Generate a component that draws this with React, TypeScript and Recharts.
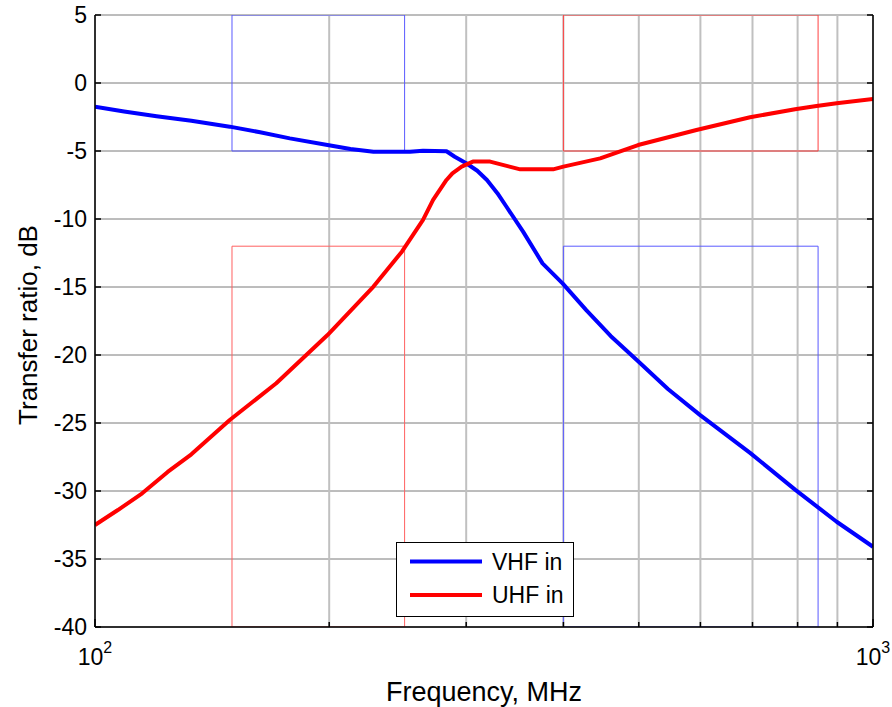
import React from 'react';
import { LineChart, Line, XAxis, YAxis, CartesianGrid } from 'recharts';

// Frequency axis (MHz) and values
const vhfFreq = [100, 109, 120, 133, 149, 163, 178, 199, 213, 228, 254, 264, 283, 290, 300, 310, 319, 329, 338, 355, 376, 399, 428, 460, 497, 545, 599, 695, 794, 898, 1000];
const vhfGain = [-1.74, -2.1, -2.45, -2.77, -3.21, -3.62, -4.07, -4.56, -4.85, -5.05, -5.05, -4.98, -5.02, -5.42, -5.9, -6.45, -7.13, -8.1, -9.1, -10.93, -13.26, -14.73, -16.7, -18.6, -20.37, -22.5, -24.4, -27.2, -29.9, -32.26, -34.1];

const uhfFreq = [100, 107, 115, 124, 133, 149, 171, 199, 228, 248, 264, 272, 283, 288, 296, 306, 322, 352, 388, 400, 446, 499, 593, 695, 794, 846, 898, 1000];
const uhfGain = [-32.5, -31.4, -30.17, -28.6, -27.3, -24.78, -22.08, -18.53, -14.97, -12.4, -10.07, -8.6, -7.13, -6.64, -6.15, -5.78, -5.78, -6.35, -6.35, -6.15, -5.54, -4.56, -3.46, -2.52, -1.93, -1.69, -1.49, -1.18];

// Mask rectangles
const vhfPassMaskF = [150, 150, 250, 250, 150];
const vhfPassMaskV = [5, -5, -5, 5, 5];
const vhfStopMaskF = [400, 400, 850, 850, 400];
const vhfStopMaskV = [-40, -12, -12, -40, -40];
const uhfStopMaskF = [150, 150, 250, 250, 150];
const uhfStopMaskV = [-40, -12, -12, -40, -40];
const uhfPassMaskF = [400, 400, 850, 850, 400];
const uhfPassMaskV = [5, -5, -5, 5, 5];

const xTicks = [100, 200, 300, 400, 500, 600, 700, 800, 900, 1000];
const yTicks = [-40, -35, -30, -25, -20, -15, -10, -5, 0, 5];

const seriesNames = ['VHF in', 'UHF in'];
const xLabel = 'Frequency, MHz';
const yLabel = 'Transfer ratio, dB';

const zip = (f: number[], v: number[]) => f.map((x, i) => ({ f: x, v: v[i] }));

const FONT = '"Liberation Sans", Arial, Helvetica, sans-serif';

const BottomTick = (props: any) => {
  const { x, y, payload } = props;
  const val = payload.value;
  const major = val === 100 || val === 1000;
  return (
    <g>
      <line x1={x} x2={x} y1={y} y2={y - (major ? 8 : 5)} stroke="#000" strokeWidth={1.5} />
      {major && (
        <text x={x} y={y + 38} textAnchor="middle" fontSize={23} fill="#000" fontFamily={FONT}>
          10<tspan dy={-12} fontSize={16}>{val === 100 ? '2' : '3'}</tspan>
        </text>
      )}
    </g>
  );
};

const TopTick = (props: any) => {
  const { x, y, payload } = props;
  const major = payload.value === 100 || payload.value === 1000;
  return <line x1={x} x2={x} y1={y} y2={y + (major ? 8 : 5)} stroke="#000" strokeWidth={1.5} />;
};

const LeftTick = (props: any) => {
  const { x, y, payload } = props;
  return (
    <g>
      <line x1={x} x2={x + 6} y1={y} y2={y} stroke="#000" strokeWidth={1.5} />
      <text x={x - 8} y={y} textAnchor="end" dominantBaseline="central" fontSize={23} fill="#000" fontFamily={FONT}>
        {payload.value}
      </text>
    </g>
  );
};

const RightTick = (props: any) => {
  const { x, y } = props;
  return <line x1={x} x2={x - 6} y1={y} y2={y} stroke="#000" strokeWidth={1.5} />;
};

const XLabel = (props: any) => {
  const vb = props.viewBox || { x: 95, width: 778 };
  return (
    <text x={vb.x + vb.width / 2} y={701} textAnchor="middle" fontSize={27} fill="#000" fontFamily={FONT}>
      {xLabel}
    </text>
  );
};

const YLabel = (props: any) => {
  const vb = props.viewBox || { y: 15, height: 612 };
  const cy = vb.y + vb.height / 2 + 4;
  return (
    <text x={28} y={cy} transform={`rotate(-90 28 ${cy})`} textAnchor="middle" dominantBaseline="central" fontSize={26} fill="#000" fontFamily={FONT}>
      {yLabel}
    </text>
  );
};

export default function App() {
  return (
    <div style={{ position: 'absolute', left: 0, top: 0, width: 892, height: 707, background: '#fff', fontFamily: FONT }}>
      <LineChart width={892} height={707} margin={{ top: 15, right: 0, bottom: 40, left: 0 }}>
        <CartesianGrid vertical={false} stroke="#7a7a7a" strokeWidth={1} />
        <CartesianGrid horizontal={false} stroke="#c0c0c0" strokeWidth={2} />
        <XAxis
          dataKey="f"
          type="number"
          scale="log"
          domain={[100, 1000]}
          allowDataOverflow
          ticks={xTicks}
          interval={0}
          height={40}
          tickSize={0}
          tickMargin={0}
          tickLine={false}
          tick={<BottomTick />}
          axisLine={{ stroke: '#000', strokeWidth: 1.5 }}
          label={<XLabel />}
        />
        <XAxis
          xAxisId="top"
          orientation="top"
          dataKey="f"
          type="number"
          scale="log"
          domain={[100, 1000]}
          allowDataOverflow
          ticks={xTicks}
          interval={0}
          height={0}
          tickSize={0}
          tickMargin={0}
          tickLine={false}
          tick={<TopTick />}
          axisLine={{ stroke: '#000', strokeWidth: 1.5 }}
        />
        <YAxis
          type="number"
          domain={[-40, 5]}
          allowDataOverflow
          ticks={yTicks}
          interval={0}
          width={95}
          tickSize={0}
          tickMargin={0}
          tickLine={false}
          tick={<LeftTick />}
          axisLine={{ stroke: '#000', strokeWidth: 1.5 }}
          label={<YLabel />}
        />
        <YAxis
          yAxisId="right"
          orientation="right"
          type="number"
          domain={[-40, 5]}
          allowDataOverflow
          ticks={yTicks}
          interval={0}
          width={19}
          tickSize={0}
          tickMargin={0}
          tickLine={false}
          tick={<RightTick />}
          axisLine={{ stroke: '#000', strokeWidth: 1.5 }}
        />
        <Line data={zip(vhfPassMaskF, vhfPassMaskV)} dataKey="v" type="linear" stroke="#5a5aff" strokeWidth={1} dot={false} activeDot={false} isAnimationActive={false} legendType="none" />
        <Line data={zip(vhfStopMaskF, vhfStopMaskV)} dataKey="v" type="linear" stroke="#5a5aff" strokeWidth={1} dot={false} activeDot={false} isAnimationActive={false} legendType="none" />
        <Line data={zip(uhfStopMaskF, uhfStopMaskV)} dataKey="v" type="linear" stroke="#ff6060" strokeWidth={1} dot={false} activeDot={false} isAnimationActive={false} legendType="none" />
        <Line data={zip(uhfPassMaskF, uhfPassMaskV)} dataKey="v" type="linear" stroke="#ff4040" strokeWidth={1} dot={false} activeDot={false} isAnimationActive={false} legendType="none" />
        <Line data={zip(vhfFreq, vhfGain)} name={seriesNames[0]} dataKey="v" type="linear" stroke="#0000ff" strokeWidth={4} strokeLinejoin="round" dot={false} activeDot={false} isAnimationActive={false} />
        <Line data={zip(uhfFreq, uhfGain)} name={seriesNames[1]} dataKey="v" type="linear" stroke="#ff0000" strokeWidth={4} strokeLinejoin="round" dot={false} activeDot={false} isAnimationActive={false} />
      </LineChart>
      <div
        style={{
          position: 'absolute',
          left: 396,
          top: 542,
          width: 178,
          height: 75,
          border: '1.5px solid #000',
          background: '#fff',
          boxSizing: 'border-box',
        }}
      >
        <svg width={175} height={72} style={{ display: 'block' }}>
          <line x1={13} x2={85} y1={18.5} y2={18.5} stroke="#0000ff" strokeWidth={4} />
          <text x={95} y={19} dominantBaseline="central" fontSize={23} fill="#000" fontFamily={FONT}>{seriesNames[0]}</text>
          <line x1={13} x2={85} y1={52} y2={52} stroke="#ff0000" strokeWidth={4} />
          <text x={95} y={52} dominantBaseline="central" fontSize={23} fill="#000" fontFamily={FONT}>{seriesNames[1]}</text>
        </svg>
      </div>
    </div>
  );
}
